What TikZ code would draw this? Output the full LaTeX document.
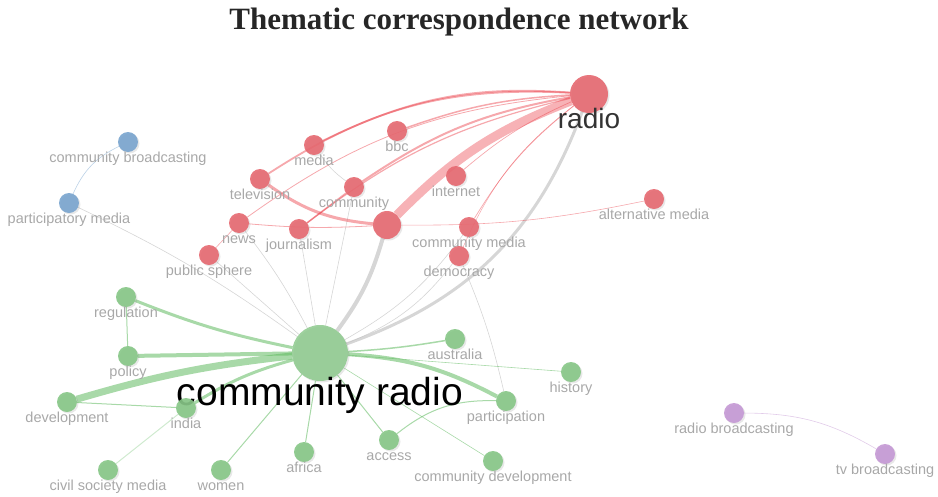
\documentclass[tikz,border=0pt]{standalone}
\usepackage{fontspec}
\setmainfont{Liberation Serif}
\setsansfont{Liberation Sans}
\usetikzlibrary{backgrounds,shadows}

\definecolor{redN}{RGB}{230,104,112}
\definecolor{redE}{RGB}{234,62,72}
\definecolor{greenN}{RGB}{134,198,134}
\definecolor{greenE}{RGB}{96,186,96}
\definecolor{blueN}{RGB}{120,164,206}
\definecolor{purpN}{RGB}{196,152,212}
\definecolor{grayE}{RGB}{196,196,196}
\definecolor{lblgray}{RGB}{168,168,168}

\begin{document}
\begin{tikzpicture}[
  x=1pt, y=-1pt,
  kw/.style={circle, minimum size=20pt, inner sep=0pt, outer sep=0pt, fill opacity=0.9,
    drop shadow={opacity=0.18, shadow xshift=1.5pt, shadow yshift=-1.5pt}},
  lbl/.style={font=\sffamily\fontsize{14.5}{14.5}\selectfont, text=lblgray, inner sep=0pt, text height=10pt, text depth=3pt},
  rednode/.style={kw, fill=redN},
  greennode/.style={kw, fill=greenN},
  bluenode/.style={kw, fill=blueN},
  purpnode/.style={kw, fill=purpN},
  redlink/.style={draw=redE, draw opacity=0.45, line width=1pt},
  greenlink/.style={draw=greenE, draw opacity=0.55, line width=1pt},
  graylink/.style={draw=grayE, draw opacity=0.7, line width=0.6pt},
  label distance=0pt
]
\useasboundingbox (0,0) rectangle (938,496);

\node[font=\bfseries\fontsize{31}{31}\selectfont, text=black!85, anchor=base] (title) at (459,29) {Thematic correspondence network};

% red cluster
\node[rednode, minimum size=38pt, label={[lbl, font=\sffamily\fontsize{28}{28}\selectfont, text=black!80, text height=20pt, label distance=-5pt]below:radio}] (radio) at (589,94) {};
\node[rednode, label={[lbl]below:bbc}] (bbc) at (397,131) {};
\node[rednode, label={[lbl]below:media}] (media) at (314,145) {};
\node[rednode, label={[lbl]below:television}] (tv) at (260,179) {};
\node[rednode, label={[lbl]below:community}] (comm) at (354,187) {};
\node[rednode, label={[lbl]below:internet}] (internet) at (456,176) {};
\node[rednode, label={[lbl]below:alternative media}] (altmedia) at (654,199) {};
\node[rednode, label={[lbl]below:news}] (news) at (239,223) {};
\node[rednode, label={[lbl]below:journalism}] (journ) at (299,229) {};
\node[rednode, minimum size=28pt] (hub) at (387,225) {};
\node[rednode, label={[lbl]below:community media}] (commmedia) at (469,227) {};
\node[rednode, label={[lbl]below:democracy}] (democ) at (459,256) {};
\node[rednode, label={[lbl]below:public sphere}] (pubsph) at (209,255) {};

% blue cluster
\node[bluenode, label={[lbl]below:community broadcasting}] (commbc) at (128,142) {};
\node[bluenode, label={[lbl]below:participatory media}] (partmedia) at (69,203) {};

% green cluster
\node[greennode, minimum size=56pt, fill opacity=0.8, label={[lbl, font=\sffamily\fontsize{39}{39}\selectfont, text=black, text height=29pt, text depth=8pt, label distance=-5pt]below:community radio}] (cr) at (320,353) {};
\node[greennode, label={[lbl]below:regulation}] (regul) at (126,297) {};
\node[greennode, label={[lbl]below:policy}] (policy) at (128,356) {};
\node[greennode, label={[lbl]below:development}] (devel) at (67,402) {};
\node[greennode, label={[lbl]below:india}] (india) at (186,408) {};
\node[greennode, label={[lbl]below:civil society media}] (civil) at (108,470) {};
\node[greennode, label={[lbl]below:women}] (women) at (221,470) {};
\node[greennode, label={[lbl]below:africa}] (africa) at (304,452) {};
\node[greennode, label={[lbl]below:access}] (access) at (389,440) {};
\node[greennode, label={[lbl]below:australia}] (austr) at (455,339) {};
\node[greennode, label={[lbl]below:history}] (hist) at (571,372) {};
\node[greennode, label={[lbl]below:participation}] (partic) at (506,401) {};
\node[greennode, label={[lbl]below:community development}] (commdev) at (493,461) {};

% purple cluster
\node[purpnode, label={[lbl]below:radio broadcasting}] (radiobc) at (734,413) {};
\node[purpnode, label={[lbl]below:tv broadcasting}] (tvbc) at (885,454) {};

\begin{pgfonlayer}{background}
% gray cross links
\draw[graylink] (partmedia) to[bend left=5] (cr);
\draw[graylink] (pubsph) -- (cr);
\draw[graylink] (news) to[bend left=5] (cr);
\draw[graylink] (journ) -- (cr);
\draw[graylink] (comm) -- (cr);
\draw[graylink] (media) to[bend right=10] (comm);
\draw[graylink] (cr) to[bend right=15] (democ);
\draw[graylink] (cr) to[bend right=12] (commmedia);
\draw[graylink] (democ) to[bend left=5] (partic);
\draw[graylink, line width=3pt] (cr) to[bend right=25] (radio);
\draw[graylink, line width=4pt] (cr) to[bend right=10] (hub);

% red links
\draw[redlink, line width=1.8pt] (media) to[bend left=15] (radio);
\draw[redlink, line width=1.5pt] (bbc) to[bend left=8] (radio);
\draw[redlink, line width=1.8pt] (tv) to[bend left=18] (radio);
\draw[redlink, line width=0.8pt] (news) to[bend left=15] (radio);
\draw[redlink, line width=2pt] (comm) to[bend left=12] (radio);
\draw[redlink, line width=1.2pt] (journ) to[bend left=12] (radio);
\draw[redlink, line width=9pt, draw opacity=0.4] (hub) to[bend left=12] (radio);
\draw[redlink, line width=0.7pt] (internet) to[bend left=8] (radio);
\draw[redlink, line width=0.7pt] (commmedia) to[bend left=10] (radio);
\draw[redlink, line width=0.5pt] (democ) to[bend left=14] (radio);
\draw[redlink, line width=3pt] (tv) to[bend right=15] (hub);
\draw[redlink, line width=0.8pt] (news) to[bend right=4] (hub);
\draw[redlink, line width=0.6pt] (hub) to[bend right=6] (altmedia);
\draw[redlink, line width=0.6pt] (pubsph) -- (news);
\draw[redlink, line width=1.5pt] (journ) -- (comm);

% green links
\draw[greenlink, line width=3pt] (regul) to[bend right=5] (cr);
\draw[greenlink, line width=4pt] (policy) -- (cr);
\draw[greenlink, line width=7pt] (devel) to[bend left=5] (cr);
\draw[greenlink, line width=3pt] (india) to[bend left=8] (cr);
\draw[greenlink] (regul) -- (policy);
\draw[greenlink] (devel) -- (india);
\draw[greenlink, draw opacity=0.3] (civil) -- (india);
\draw[greenlink] (women) -- (cr);
\draw[greenlink] (africa) -- (cr);
\draw[greenlink] (access) -- (cr);
\draw[greenlink, line width=1.5pt] (austr) to[bend left=3] (cr);
\draw[greenlink, line width=0.6pt] (cr) -- (hist);
\draw[greenlink, line width=4pt] (cr) to[bend left=12] (partic);
\draw[greenlink] (access) to[bend left=20] (partic);
\draw[greenlink, line width=0.6pt] (cr) -- (commdev);

% blue and purple links
\draw[draw=blueN, draw opacity=0.5, line width=0.6pt] (commbc) to[bend right=20] (partmedia);
\draw[draw=purpN, draw opacity=0.5, line width=0.6pt] (radiobc) to[bend left=15] (tvbc);
\end{pgfonlayer}
\end{tikzpicture}
\end{document}
